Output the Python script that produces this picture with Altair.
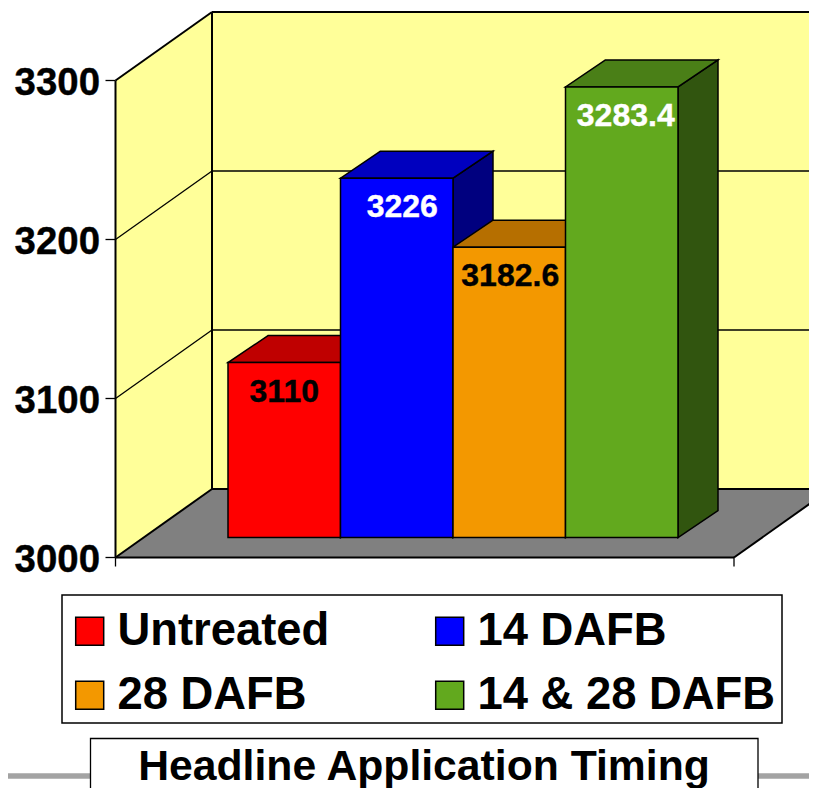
import altair as alt
import pandas as pd

# ---- chart values
categories = ["Untreated", "14 DAFB", "28 DAFB", "14 & 28 DAFB"]
values = [3110, 3226, 3182.6, 3283.4]
value_labels = ["3110", "3226", "3182.6", "3283.4"]
tick_values = [3000, 3100, 3200, 3300]
chart_title = "Headline Application Timing"

front_colors = ["#FF0000", "#0000FF", "#F39800", "#62A91E"]
top_colors = ["#BF0000", "#0000BF", "#B66F00", "#4A7F17"]
side_colors = ["#800000", "#00007F", "#7A4C00", "#31550F"]
label_colors = ["black", "white", "black", "white"]
legend_order = [0, 2, 1, 3]   # the legend fills column by column

# ---- layout of the pseudo-3D scene (x in page units, y in value units)
FONT = "Liberation Sans"
W, H = 801, 780
PX_PER_UNIT = 1.59
Y_ZERO_PX = 557.5            # page y of value 3000
BASE = 3000
v_at = lambda page_y: BASE + (Y_ZERO_PX - page_y) / PX_PER_UNIT
dv = lambda px: px / PX_PER_UNIT

xs = alt.Scale(domain=[8, 8 + W], range=[0, W], nice=False, zero=False)
ys = alt.Scale(domain=[v_at(8 + H), v_at(8)], range=[H, 0], nice=False, zero=False)

X = lambda f="x": alt.X(f"{f}:Q", scale=xs, axis=None)
Y = lambda f="y": alt.Y(f"{f}:Q", scale=ys, axis=None)
X2 = alt.X2("x2:Q")
Y2 = alt.Y2("y2:Q")

LEFT, FLOOR_R = 115.5, 734
WALL_DX, WALL_DV = 96.5, dv(68.5)
TOP = 3300
BAR_L, BAR_W = 228, 112.5
BAR_DX, BAR_DV = 40, dv(27)
BASE_LIFT = dv(20)
LABEL_NUDGE = [0, 5.5, 1, 4]

layers = []

# walls and floor
layers.append(alt.Chart(pd.DataFrame([
    {"x": LEFT, "y": BASE, "y2": TOP},
    {"x": LEFT + WALL_DX, "y": BASE + WALL_DV, "y2": TOP + WALL_DV},
])).mark_area(color="#FFFF99", orient="vertical").encode(x=X(), y=Y(), y2=Y2))
layers.append(alt.Chart(pd.DataFrame([
    {"x": LEFT + WALL_DX, "x2": FLOOR_R + WALL_DX, "y": BASE + WALL_DV, "y2": TOP + WALL_DV},
])).mark_rect(color="#FFFF99").encode(x=X(), x2=X2, y=Y(), y2=Y2))
layers.append(alt.Chart(pd.DataFrame([
    {"x": LEFT, "x2": FLOOR_R, "y": BASE},
    {"x": LEFT + WALL_DX, "x2": FLOOR_R + WALL_DX, "y": BASE + WALL_DV},
])).mark_area(color="#808080", orient="horizontal").encode(x=X(), x2=X2, y=Y()))

# grid lines and frame
def segments(items):
    rows = []
    for i, (x0, y0, x1, y1) in enumerate(items):
        rows += [{"g": i, "x": x0, "y": y0}, {"g": i, "x": x1, "y": y1}]
    return pd.DataFrame(rows)

thin = []
for t in tick_values:
    thin.append((LEFT - 10, t, LEFT, t))
    if t not in (BASE, TOP):
        thin.append((LEFT, t, LEFT + WALL_DX, t + WALL_DV))
        thin.append((LEFT + WALL_DX, t + WALL_DV, FLOOR_R + WALL_DX, t + WALL_DV))
thin.append((LEFT, BASE, LEFT, BASE - dv(9)))
thin.append((FLOOR_R, BASE, FLOOR_R, BASE - dv(9)))
layers.append(alt.Chart(segments(thin)).mark_line(color="black", strokeWidth=1.3).encode(
    x=X(), y=Y(), detail="g:N"))

thick = [
    (LEFT, BASE, LEFT, TOP),
    (LEFT, TOP, LEFT + WALL_DX, TOP + WALL_DV),
    (LEFT, BASE, LEFT + WALL_DX, BASE + WALL_DV),
    (LEFT + WALL_DX, BASE + WALL_DV, LEFT + WALL_DX, TOP + WALL_DV),
    (LEFT + WALL_DX, TOP + WALL_DV, FLOOR_R + WALL_DX, TOP + WALL_DV),
    (LEFT + WALL_DX, BASE + WALL_DV, FLOOR_R + WALL_DX, BASE + WALL_DV),
    (LEFT, BASE, FLOOR_R, BASE),
    (FLOOR_R, BASE, FLOOR_R + WALL_DX, BASE + WALL_DV),
]
layers.append(alt.Chart(segments(thick)).mark_line(color="black", strokeWidth=2).encode(
    x=X(), y=Y(), detail="g:N"))

# depth faces of the bars, left to right
fronts = []
for i, (name, v) in enumerate(zip(categories, values)):
    x0 = BAR_L + i * BAR_W
    x1 = x0 + BAR_W
    bottom = BASE + BASE_LIFT
    top = v + BASE_LIFT
    layers.append(alt.Chart(pd.DataFrame([
        {"x": x1, "y": top, "y2": bottom},
        {"x": x1 + BAR_DX, "y": top + BAR_DV, "y2": bottom + BAR_DV},
    ])).mark_area(color=side_colors[i], stroke="black", strokeWidth=1.5, orient="vertical").encode(
        x=X(), y=Y(), y2=Y2))
    layers.append(alt.Chart(pd.DataFrame([
        {"x": x0, "x2": x1, "y": top},
        {"x": x0 + BAR_DX, "x2": x1 + BAR_DX, "y": top + BAR_DV},
    ])).mark_area(color=top_colors[i], stroke="black", strokeWidth=1.5, orient="horizontal").encode(
        x=X(), x2=X2, y=Y()))
    fronts.append({"cat": name, "x": x0, "x2": x1, "y": top, "y2": bottom,
                   "label": value_labels[i], "lx": (x0 + x1) / 2 + LABEL_NUDGE[i],
                   "ly": top - dv(29), "lc": label_colors[i]})
fronts = pd.DataFrame(fronts)

# legend frame
layers.append(alt.Chart(pd.DataFrame({"x": [62], "x2": [782], "y": [v_at(595)], "y2": [v_at(723)]})).mark_rect(
    fill="white", stroke="black", strokeWidth=1.5).encode(x=X(), x2=X2, y=Y(), y2=Y2))

# front faces carry the legend
layers.append(alt.Chart(fronts).mark_rect(stroke="black", strokeWidth=1.5).encode(
    x=X(), x2=X2, y=Y(), y2=Y2,
    color=alt.Color("cat:N", scale=alt.Scale(
            domain=[categories[i] for i in legend_order],
            range=[front_colors[i] for i in legend_order]),
        legend=alt.Legend(
            title=None, orient="none", legendX=59, legendY=600, columns=2, zindex=1,
            symbolType="square", symbolSize=784, symbolStrokeColor="black", symbolStrokeWidth=1.5,
            labelFont=FONT, labelFontSize=45.4, labelFontWeight="bold", labelColor="black",
            labelOffset=5, labelLimit=400, columnPadding=97, rowPadding=17.5,
            padding=0))))

# value labels
for c in ("black", "white"):
    layers.append(alt.Chart(fronts[fronts.lc == c]).mark_text(
        font=FONT, fontSize=32, fontWeight="bold", baseline="middle",
        color=c, stroke=c, strokeWidth=0.4).encode(
        x=X("lx"), y=Y("ly"), text="label:N"))

# axis labels
layers.append(alt.Chart(pd.DataFrame({
    "y": tick_values, "x": [100] * len(tick_values), "t": [str(t) for t in tick_values]
})).mark_text(font=FONT, fontSize=38.4, fontWeight="bold", align="right", baseline="middle", dy=2,
              color="black", stroke="black", strokeWidth=0.4).encode(
    x=X(), y=Y(), text="t:N"))

# footer rule and title box
layers.append(alt.Chart(pd.DataFrame({"x": [8], "x2": [8 + W], "y": [v_at(776)]})).mark_rule(
    color="#A3A3A3", strokeWidth=5.5).encode(x=X(), x2=X2, y=Y()))
layers.append(alt.Chart(pd.DataFrame({"x": [90.5], "x2": [758], "y": [v_at(738.5)], "y2": [v_at(800)]})).mark_rect(
    fill="white", stroke="black", strokeWidth=1.3).encode(x=X(), x2=X2, y=Y(), y2=Y2))
layers.append(alt.Chart(pd.DataFrame({"x": [424], "y": [v_at(767)], "t": [chart_title]})).mark_text(
    font=FONT, fontSize=42.7, fontWeight="bold", baseline="middle", color="black").encode(
    x=X(), y=Y(), text="t:N"))

chart = alt.layer(*layers).properties(
    width=W, height=H, padding=0, autosize=alt.AutoSizeParams(type="none"),
    background="white"
).configure_view(stroke=None)

chart.save("out.html", embed_options={"renderer": "svg", "actions": False})
